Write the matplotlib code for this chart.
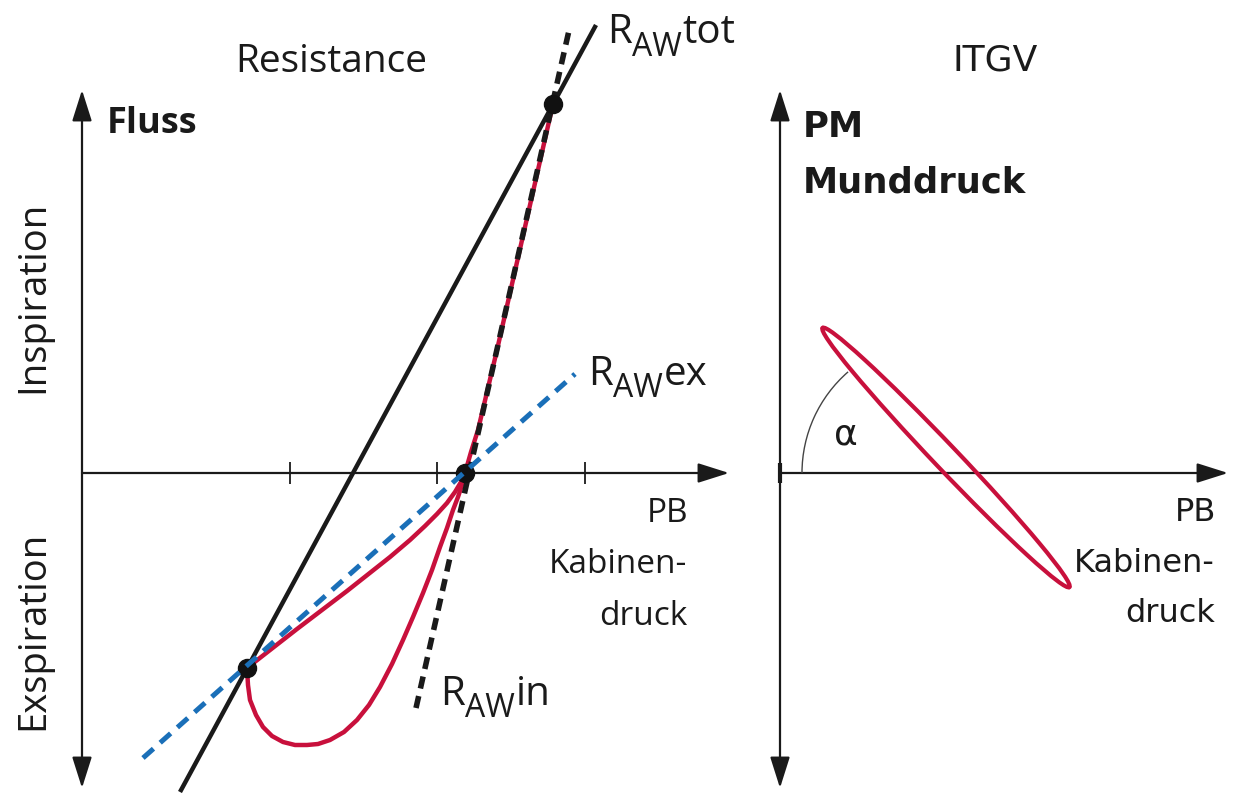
import matplotlib
matplotlib.use('Agg')
import matplotlib.pyplot as plt
from matplotlib.patches import FancyArrowPatch, Ellipse, Arc

plt.rcParams['font.family'] = ['Open Sans', 'DejaVu Sans']

# ---------------- data (left panel: Resistance) ----------------
# inspiration branch (crossing point -> upper point)
insp_x = [3.83, 3.89, 3.96, 4.15, 4.71]
insp_y = [0.00, 0.21, 0.43, 1.23, 3.69]
# expiration loop, lower (outer) part: crossing -> bottom -> lower point
exp_low_x = [3.83, 3.81, 3.76, 3.71, 3.65, 3.58, 3.50, 3.41, 3.31, 3.21, 3.10, 2.98, 2.87,
             2.75, 2.62, 2.48, 2.36, 2.25, 2.13, 2.01, 1.90, 1.81, 1.74, 1.68, 1.66, 1.65]
exp_low_y = [0.00, -0.09, -0.24, -0.37, -0.55, -0.74, -0.97, -1.20, -1.44, -1.67, -1.91, -2.14, -2.32,
             -2.47, -2.59, -2.67, -2.71, -2.72, -2.72, -2.69, -2.63, -2.54, -2.42, -2.27, -2.12, -1.95]
# expiration loop, upper part: lower point -> crossing
exp_up_x = [1.65, 2.15, 2.65, 3.08, 3.28, 3.43, 3.55, 3.65, 3.73, 3.79, 3.83]
exp_up_y = [-1.95, -1.56, -1.18, -0.84, -0.67, -0.53, -0.41, -0.30, -0.19, -0.09, 0.00]
# regression lines (end points)
raw_tot_x = [0.98, 5.14]
raw_tot_y = [-3.19, 4.48]
raw_in_x = [3.34, 4.88]
raw_in_y = [-2.35, 4.47]
raw_ex_x = [0.61, 4.93]
raw_ex_y = [-2.85, 0.99]
# marked points
dots_x = [4.71, 3.83, 1.65]
dots_y = [3.69, 0.00, -1.95]
# x-axis tick positions
ticks_x = [2.08, 3.55, 5.03]

# ---------------- data (right panel: ITGV) ----------------
ell_center = (1.66, 0.155)
ell_length = 3.58
ell_thick = 0.24
ell_angle = -46.4
arc_center = (1.56, 0.0)
arc_radius = 1.34
arc_theta = (131, 180)

RED = '#C8103C'
BLUE = '#1A6FB8'
INK = '#1a1a1a'

fig = plt.figure(figsize=(12.35, 7.96), dpi=100)
axL = fig.add_axes([0, 0, 760 / 1235, 1])
axR = fig.add_axes([760 / 1235, 0, 475 / 1235, 1])
axL.set_xlim(-0.82, 6.78)
axL.set_ylim(-3.23, 4.73)
axR.set_xlim(-0.20, 4.55)
axR.set_ylim(-3.23, 4.73)
for ax in (axL, axR):
    ax.set_axis_off()


def arrow(ax, p0, p1, style):
    ax.add_patch(FancyArrowPatch(p0, p1, arrowstyle=style, mutation_scale=16,
                                 lw=1.6, color=INK, shrinkA=0, shrinkB=0, zorder=1))


def r_label(ax, x, y, rest):
    t = ax.text(x, y, 'R', ha='left', va='baseline', fontsize=29, color=INK)
    sub = ax.annotate('AW', xy=(1, 0), xycoords=t, xytext=(0.3, -7.5),
                      textcoords='offset points', ha='left', va='bottom',
                      fontsize=23, color=INK)
    ax.annotate(rest, xy=(1, 0), xycoords=(sub, t), xytext=(0.5, 0),
                textcoords='offset points', ha='left', va='bottom',
                fontsize=29, color=INK)


head = ',head_length=1.2,head_width=0.38'
# ---- left axes
arrow(axL, (0, -3.15), (0, 3.83), '<|-|>' + head)
arrow(axL, (0, 0), (6.47, 0), '-|>' + head)
axL.vlines(ticks_x, -0.11, 0.11, color=INK, lw=1.3, zorder=1)

# ---- left curves
axL.plot(raw_tot_x, raw_tot_y, color=INK, lw=3.2, solid_capstyle='butt', zorder=2)
for xs, ys in ((insp_x, insp_y), (exp_low_x, exp_low_y), (exp_up_x, exp_up_y)):
    axL.plot(xs, ys, color=RED, lw=3.2, solid_joinstyle='round', solid_capstyle='round', zorder=3)
axL.plot(raw_in_x, raw_in_y, color=INK, lw=4.0, dashes=(2.2, 1.4), zorder=4)
axL.plot(dots_x, dots_y, 'o', ms=13, color='#111111', zorder=5)
axL.plot(raw_ex_x, raw_ex_y, color=BLUE, lw=3.6, dashes=(2.8, 1.8), zorder=6)

# ---- left texts
axL.text(2.49, 4.013, 'Resistance', ha='center', va='baseline', fontsize=28, color=INK)
axL.text(0.247, 3.40, 'Fluss', ha='left', va='baseline', fontsize=26, fontweight='bold', color=INK)
axL.text(-0.49, 1.76, 'Inspiration', rotation=90, ha='center', va='center', fontsize=27.5, color=INK)
axL.text(-0.49, -1.57, 'Exspiration', rotation=90, ha='center', va='center', fontsize=27.5, color=INK)
axL.text(6.06, -0.487, 'PB', ha='right', va='baseline', fontsize=24, color=INK)
axL.text(6.05, -1.00, 'Kabinen-', ha='right', va='baseline', fontsize=24, color=INK)
axL.text(6.05, -1.52, 'druck', ha='right', va='baseline', fontsize=24, color=INK)
r_label(axL, 5.247, 4.297, 'tot')
r_label(axL, 5.06, 0.88, 'ex')
r_label(axL, 3.58, -2.32, 'in')

# ---- right axes
arrow(axR, (0, -3.15), (0, 3.83), '<|-|>' + head)
arrow(axR, (0, 0), (4.48, 0), '-|>' + head)
axR.vlines([0], -0.10, 0.10, color=INK, lw=3, zorder=1)

axR.add_patch(Ellipse(ell_center, ell_length, ell_thick, angle=ell_angle,
                      fill=False, ec=RED, lw=3.0, zorder=3))
axR.add_patch(Arc(arc_center, 2 * arc_radius, 2 * arc_radius,
                  theta1=arc_theta[0], theta2=arc_theta[1], lw=1.0, color='#444444', zorder=2))

RF = 'DejaVu Sans'
axR.text(2.15, 4.022, 'ITGV', ha='center', va='baseline', fontsize=26, family=RF, color=INK)
axR.text(0.23, 3.364, 'PM', ha='left', va='baseline', fontsize=25.5, family=RF, fontweight='bold', color=INK)
axR.text(0.23, 2.81, 'Munddruck', ha='left', va='baseline', fontsize=25.5, family=RF, fontweight='bold', color=INK)
axR.text(4.367, -0.48, 'PB', ha='right', va='baseline', fontsize=23, family=RF, color=INK)
axR.text(4.35, -0.986, 'Kabinen-', ha='right', va='baseline', fontsize=23, family=RF, color=INK)
axR.text(4.35, -1.49, 'druck', ha='right', va='baseline', fontsize=23, family=RF, color=INK)
axR.text(0.66, 0.39, 'α', ha='center', va='center', fontsize=26, family=RF, color=INK)

fig.savefig('out.png', dpi=100, facecolor='white')
